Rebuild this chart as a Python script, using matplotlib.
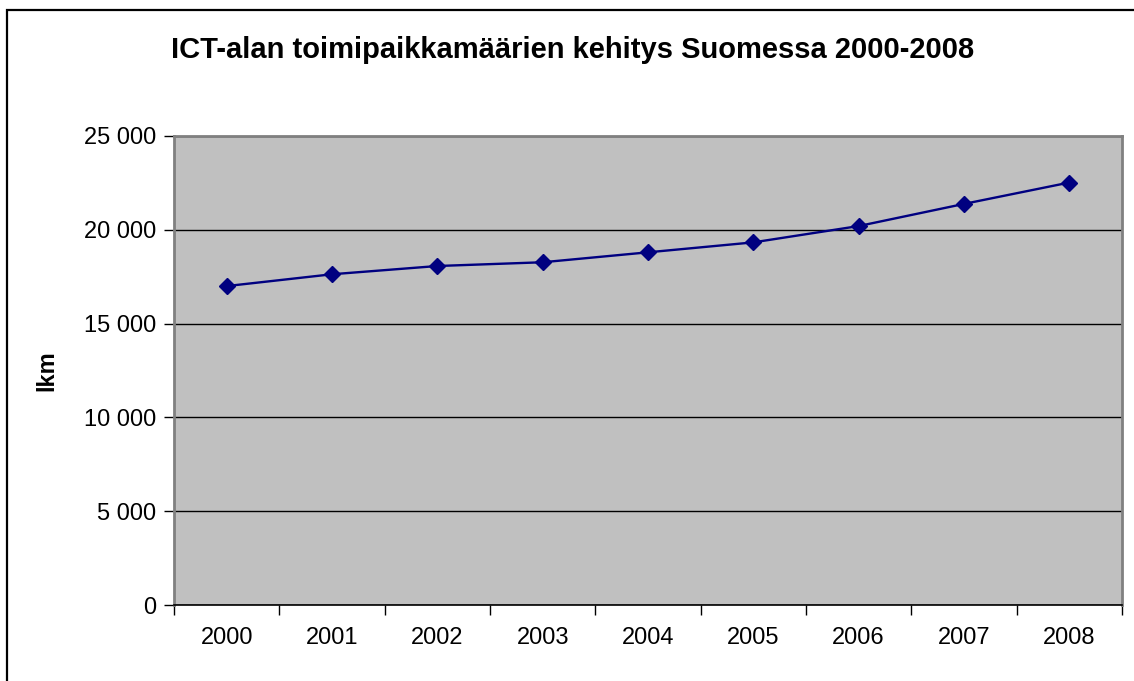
import matplotlib.pyplot as plt
from matplotlib.patches import Rectangle
from matplotlib.ticker import FuncFormatter

years = ["2000", "2001", "2002", "2003", "2004", "2005", "2006", "2007", "2008"]
counts = [17000, 17630, 18070, 18270, 18800, 19330, 20200, 21380, 22520]

plt.rcParams["font.family"] = ["Liberation Sans", "DejaVu Sans"]

fig = plt.figure(figsize=(11.34, 6.81), dpi=100)
fig.patch.set_facecolor("white")

# outer chart border (runs off the right and bottom edges as in the original)
fig.patches.append(Rectangle((7 / 1134, -0.05), 1.2, 1 - 10 / 681 + 0.05,
                             transform=fig.transFigure, fill=False,
                             edgecolor="black", linewidth=1.6))

ax = fig.add_axes([174 / 1134, 1 - 605 / 681, (1122 - 174) / 1134, (605 - 136) / 681])
ax.set_facecolor("#c0c0c0")

x = list(range(len(years)))
ax.plot(x, counts, color="#000080", linewidth=1.7, marker="D", markersize=8.5, zorder=3)

ax.set_xlim(-0.5, len(years) - 0.5)
ax.set_ylim(0, 25000)
ax.set_yticks(range(0, 25001, 5000))
ax.yaxis.set_major_formatter(FuncFormatter(lambda v, p: f"{int(v):,}".replace(",", " ")))
ax.grid(axis="y", color="black", linewidth=1)
ax.set_axisbelow(True)

ax.set_xticks(x)
ax.set_xticklabels(years)
ax.set_xticks([i - 0.5 for i in range(len(years) + 1)], minor=True)
ax.tick_params(axis="x", which="major", length=0, pad=16, labelsize=17)
ax.tick_params(axis="x", which="minor", length=7, color="black", width=1)
ax.tick_params(axis="y", length=7, width=1, color="black", pad=6, labelsize=17)

for side in ["left", "top", "right"]:
    ax.spines[side].set_color("#808080")
    ax.spines[side].set_linewidth(2)
ax.spines["bottom"].set_color("black")
ax.spines["bottom"].set_linewidth(1.2)

ax.set_ylabel("lkm", fontsize=17, fontweight="bold", labelpad=18)
fig.text(573 / 1134, 1 - 50 / 681, "ICT-alan toimipaikkamäärien kehitys Suomessa 2000-2008",
         ha="center", va="center", fontsize=21, fontweight="bold")

fig.savefig("out.png", dpi=100)
